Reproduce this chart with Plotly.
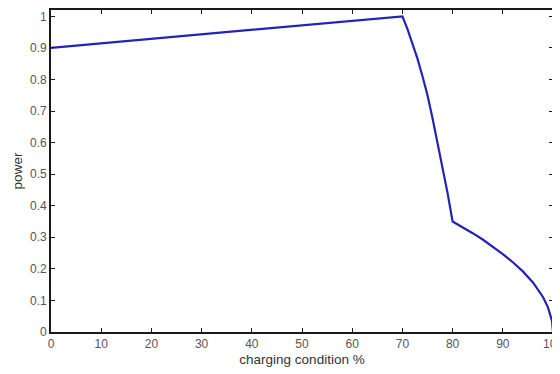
import plotly.graph_objects as go

# charging condition (%) and relative power
charge = [0, 10, 20, 30, 40, 50, 60, 70, 71, 72, 73, 74, 75, 76, 77, 78, 79, 80,
          82, 84, 86, 88, 90, 92, 94, 96, 97, 98, 99, 99.5, 99.8, 100]
power = [0.900, 0.914, 0.929, 0.943, 0.957, 0.971, 0.986, 1.000, 0.960, 0.915, 0.866, 0.810,
         0.750, 0.677, 0.600, 0.520, 0.440, 0.350,
         0.332, 0.313, 0.293, 0.271, 0.247, 0.221, 0.192, 0.157, 0.135, 0.111, 0.078, 0.055,
         0.035, 0.0]

x_ticks = [0, 10, 20, 30, 40, 50, 60, 70, 80, 90, 100]
y_ticks = [0, 0.1, 0.2, 0.3, 0.4, 0.5, 0.6, 0.7, 0.8, 0.9, 1]

FONT = "Liberation Sans, Arial, sans-serif"

fig = go.Figure()
fig.add_trace(go.Scatter(x=charge, y=power, mode="lines", cliponaxis=False,
                         line=dict(color="#2323b8", width=2.2), showlegend=False))

axis_common = dict(showline=True, linecolor="#1a1a1a", linewidth=1.6, mirror="ticks",
                   ticks="inside", ticklen=4, tickwidth=1.4, tickcolor="#1a1a1a",
                   showgrid=False, zeroline=False, automargin=False,
                   ticklabeloverflow="allow",
                   tickfont=dict(family=FONT, size=12, color="#555555"))

fig.update_xaxes(range=[0, 100], tickvals=x_ticks,
                 title=dict(text="charging condition %", standoff=4,
                            font=dict(family=FONT, size=13.5, color="#333333")),
                 **axis_common)
fig.update_yaxes(range=[0, 1.02], tickvals=y_ticks,
                 title=dict(text="power", standoff=4,
                            font=dict(family=FONT, size=13.5, color="#333333")),
                 **axis_common)

# page body adds an 8px offset, so the figure is sized to fit the remaining window
fig.update_layout(width=552, height=366, margin=dict(l=43, r=7, t=2, b=42),
                  plot_bgcolor="white", paper_bgcolor="white")

fig.write_html("out.html")
